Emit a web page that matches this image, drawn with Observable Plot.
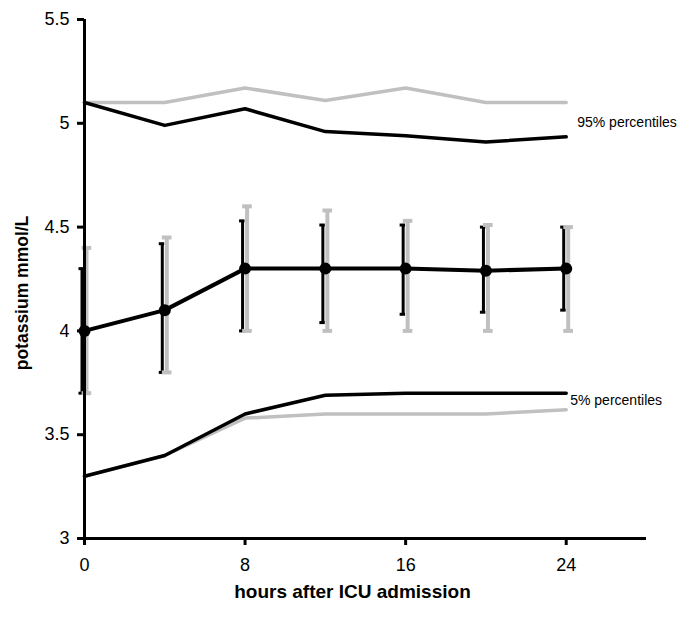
<!DOCTYPE html>
<html>
<head>
<meta charset="utf-8">
<script src="https://cdn.jsdelivr.net/npm/d3@7"></script>
<script src="https://cdn.jsdelivr.net/npm/@observablehq/plot@0.6"></script>
<style>
  html, body { margin: 0; padding: 0; background: #fff; }
</style>
</head>
<body>
<div id="chart"></div>
<script>
const hours = [0, 4, 8, 12, 16, 20, 24];
const meanK = [4.0, 4.1, 4.3, 4.3, 4.3, 4.29, 4.3];
const blackLow = [3.7, 3.8, 4.0, 4.04, 4.08, 4.09, 4.10];
const blackHigh = [4.3, 4.42, 4.53, 4.51, 4.51, 4.50, 4.50];
const greyLow = [3.7, 3.8, 4.0, 4.0, 4.0, 4.0, 4.0];
const greyHigh = [4.4, 4.45, 4.6, 4.58, 4.53, 4.51, 4.50];
const p95Black = [5.1, 4.99, 5.07, 4.96, 4.94, 4.91, 4.935];
const p95Grey = [5.1, 5.1, 5.17, 5.11, 5.17, 5.1, 5.1];
const p5Black = [3.3, 3.4, 3.6, 3.69, 3.70, 3.70, 3.70];
const p5Grey = [3.3, 3.4, 3.58, 3.60, 3.60, 3.60, 3.62];
const xTicks = [0, 8, 16, 24];
const yTicks = [3, 3.5, 4, 4.5, 5, 5.5];
const labels95 = [{h: 24, v: 5.005, text: "95% percentiles"}];
const labels5 = [{h: 24, v: 3.665, text: "5% percentiles"}];
const xLabel = "hours after ICU admission";
const yLabel = "potassium mmol/L";

const rows = hours.map((h, i) => ({
  h, mean: meanK[i], bLow: blackLow[i], bHigh: blackHigh[i],
  gLow: greyLow[i], gHigh: greyHigh[i],
  p95b: p95Black[i], p95g: p95Grey[i], p5b: p5Black[i], p5g: p5Grey[i]
}));

const grey = "#c0c0c0";
const font = "'Liberation Sans', Arial, Helvetica, sans-serif";

const chart = Plot.plot({
  width: 685,
  height: 620,
  marginLeft: 84,
  marginRight: 39,
  marginTop: 19,
  marginBottom: 82,
  style: {fontFamily: font, fontSize: "18px", background: "#fff", color: "#000"},
  x: {domain: [0, 28]},
  y: {domain: [3, 5.5]},
  marks: [
    // percentile lines
    Plot.line(rows, {x: "h", y: "p95g", stroke: grey, strokeWidth: 3.5}),
    Plot.line(rows, {x: "h", y: "p5g", stroke: grey, strokeWidth: 3.5}),
    Plot.line(rows, {x: "h", y: "p95b", stroke: "#000", strokeWidth: 3.5}),
    Plot.line(rows, {x: "h", y: "p5b", stroke: "#000", strokeWidth: 3.5}),
    // black error bars
    Plot.ruleX(rows, {x: "h", y1: "bLow", y2: "bHigh", dx: -2.5, stroke: "#000", strokeWidth: 3}),
    Plot.ruleY(rows, {y: "bHigh", x1: d => d.h - 0.15, x2: d => d.h + 0.12, dx: -2.5, stroke: "#000", strokeWidth: 3}),
    Plot.ruleY(rows, {y: "bLow", x1: d => d.h - 0.15, x2: d => d.h + 0.12, dx: -2.5, stroke: "#000", strokeWidth: 3}),
    // grey error bars
    Plot.ruleX(rows, {x: "h", y1: "gLow", y2: "gHigh", dx: 2, stroke: grey, strokeWidth: 4}),
    Plot.ruleY(rows, {y: "gHigh", x1: d => d.h - 0.22, x2: d => d.h + 0.26, dx: 2, stroke: grey, strokeWidth: 4}),
    Plot.ruleY(rows, {y: "gLow", x1: d => d.h - 0.22, x2: d => d.h + 0.26, dx: 2, stroke: grey, strokeWidth: 4}),
    // axes
    Plot.axisX({ticks: xTicks, tickSize: 7, tickPadding: 13, strokeWidth: 3, label: null, fontSize: 18, tickFormat: d => String(d)}),
    Plot.axisY({ticks: yTicks, tickSize: 7, tickPadding: 8, strokeWidth: 3, label: null, fontSize: 18, tickFormat: d => String(d)}),
    Plot.ruleX([0], {y1: 3, y2: 5.5, stroke: "#000", strokeWidth: 3}),
    Plot.ruleY([3], {x1: 0, x2: 28, stroke: "#000", strokeWidth: 3}),
    // mean line and dots
    Plot.line(rows, {x: "h", y: "mean", stroke: "#000", strokeWidth: 4}),
    Plot.dot(rows, {x: "h", y: "mean", r: 6, fill: "#000"}),
    // annotations
    Plot.text(labels95, {x: "h", y: "v", text: "text", dx: 11, textAnchor: "start", fontSize: 14}),
    Plot.text(labels5, {x: "h", y: "v", text: "text", dx: 4, textAnchor: "start", fontSize: 14}),
    Plot.text([xLabel], {frameAnchor: "bottom", textAnchor: "middle", dx: -13, dy: 59, fontWeight: "bold", fontSize: 19, lineAnchor: "bottom"}),
    Plot.text([yLabel], {frameAnchor: "left", textAnchor: "middle", dx: -62, dy: 14, rotate: -90, fontWeight: "bold", fontSize: 17.5})
  ]
});
document.getElementById("chart").appendChild(chart);
</script>
</body>
</html>
